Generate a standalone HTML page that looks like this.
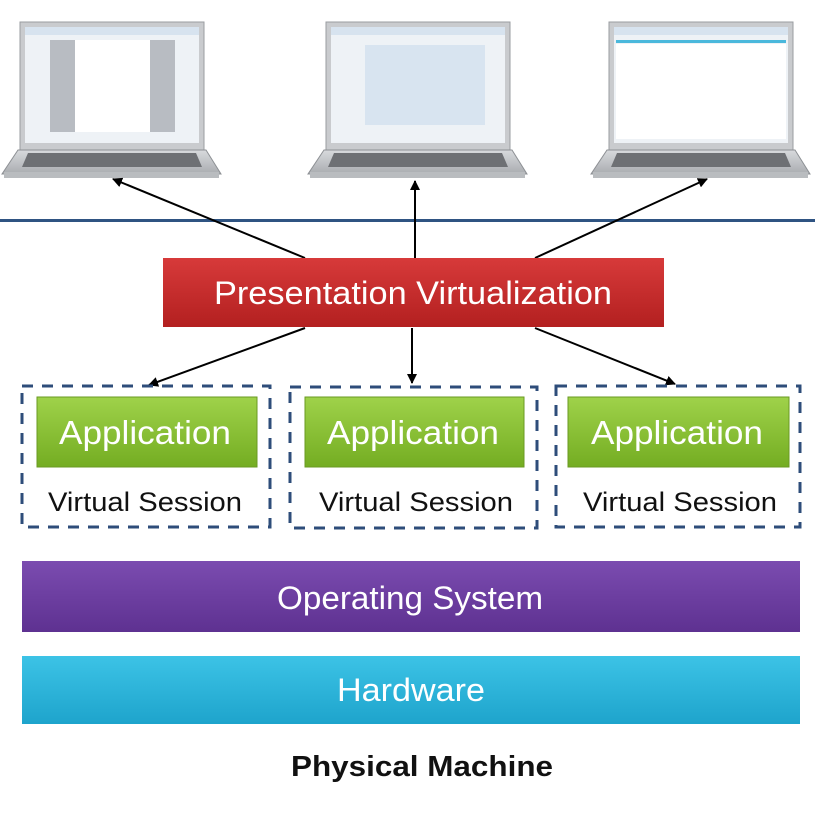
<!DOCTYPE html>
<html><head><meta charset="utf-8"><style>
html,body{margin:0;padding:0;background:#fff;}
svg{display:block;}
text{font-family:"Liberation Sans",sans-serif;}
</style></head><body>
<svg width="815" height="814" viewBox="0 0 815 814" xmlns="http://www.w3.org/2000/svg">
<defs>
<linearGradient id="red" x1="0" y1="0" x2="0" y2="1"><stop offset="0" stop-color="#d73a3a"/><stop offset="1" stop-color="#b32020"/></linearGradient>
<linearGradient id="grn" x1="0" y1="0" x2="0" y2="1"><stop offset="0" stop-color="#9fd24a"/><stop offset="1" stop-color="#74ad22"/></linearGradient>
<linearGradient id="pur" x1="0" y1="0" x2="0" y2="1"><stop offset="0" stop-color="#7b4cb0"/><stop offset="1" stop-color="#5e3191"/></linearGradient>
<linearGradient id="cyn" x1="0" y1="0" x2="0" y2="1"><stop offset="0" stop-color="#3cc3e6"/><stop offset="1" stop-color="#1ea4cc"/></linearGradient>
<linearGradient id="base" x1="0" y1="0" x2="0" y2="1"><stop offset="0" stop-color="#d8dadd"/><stop offset="1" stop-color="#a9acb0"/></linearGradient>
<marker id="ah" markerWidth="10" markerHeight="10" refX="9" refY="5" orient="auto" markerUnits="userSpaceOnUse"><path d="M0,0 L10,5 L0,10 z" fill="#000"/></marker>
<g id="lap">
<rect x="0" y="0" width="184" height="130" fill="#c9cbce" stroke="#9a9da0"/>
<rect x="5" y="5" width="174" height="116" fill="#eef2f6"/>
<rect x="5" y="5" width="174" height="8" fill="#d7e3ef"/>
<path d="M-2,128 L186,128 L201,152 L-18,152 Z" fill="url(#base)" stroke="#8d9094"/>
<path d="M8,131 L176,131 L182,145 L2,145 Z" fill="#6e7074"/>
<rect x="-16" y="150" width="215" height="6" fill="#b9bcbf"/>
</g>
</defs>
<use href="#lap" x="20" y="22"/>
<rect x="50" y="40" width="25" height="92" fill="#b8bcc2"/>
<rect x="150" y="40" width="25" height="92" fill="#b8bcc2"/>
<rect x="75" y="40" width="75" height="92" fill="#fff"/>
<use href="#lap" x="326" y="22"/>
<rect x="365" y="45" width="120" height="80" fill="#d8e4f0"/>
<use href="#lap" x="609" y="22"/>
<rect x="616" y="40" width="170" height="3" fill="#4ab8dc"/>
<rect x="616" y="44" width="170" height="95" fill="#fff"/>

<rect x="0" y="219" width="815" height="3" fill="#2f5482"/>

<g stroke="#000" stroke-width="2" fill="none" marker-end="url(#ah)">
<line x1="305" y1="258" x2="113" y2="179"/>
<line x1="415" y1="258" x2="415" y2="181"/>
<line x1="535" y1="258" x2="707" y2="179"/>
<line x1="305" y1="328" x2="149" y2="385"/>
<line x1="412" y1="328" x2="412" y2="383"/>
<line x1="535" y1="328" x2="675" y2="384"/>
</g>

<rect x="163" y="258" width="501" height="69" fill="url(#red)"/>
<text x="413" y="304" font-size="32" fill="#fff" text-anchor="middle" textLength="398" lengthAdjust="spacingAndGlyphs">Presentation Virtualization</text>

<g fill="none" stroke="#2e4d7a" stroke-width="3" stroke-dasharray="11,9">
<rect x="22" y="386" width="248" height="141"/>
<rect x="290" y="387" width="247" height="141"/>
<rect x="556" y="386" width="244" height="141"/>
</g>
<g fill="url(#grn)" stroke="#6a9a22">
<rect x="37" y="397" width="220" height="70"/>
<rect x="305" y="397" width="219" height="70"/>
<rect x="568" y="397" width="221" height="70"/>
</g>
<g font-size="33" fill="#fff" text-anchor="middle">
<text x="145" y="444" textLength="172" lengthAdjust="spacingAndGlyphs">Application</text>
<text x="413" y="444" textLength="172" lengthAdjust="spacingAndGlyphs">Application</text>
<text x="677" y="444" textLength="172" lengthAdjust="spacingAndGlyphs">Application</text>
</g>
<g font-size="27" fill="#111" text-anchor="middle">
<text x="145" y="511" textLength="194" lengthAdjust="spacingAndGlyphs">Virtual Session</text>
<text x="416" y="511" textLength="194" lengthAdjust="spacingAndGlyphs">Virtual Session</text>
<text x="680" y="511" textLength="194" lengthAdjust="spacingAndGlyphs">Virtual Session</text>
</g>

<rect x="22" y="561" width="778" height="71" fill="url(#pur)"/>
<text x="410" y="609" font-size="32" fill="#fff" text-anchor="middle" textLength="266" lengthAdjust="spacingAndGlyphs">Operating System</text>
<rect x="22" y="656" width="778" height="68" fill="url(#cyn)"/>
<text x="411" y="701" font-size="32" fill="#fff" text-anchor="middle" textLength="148" lengthAdjust="spacingAndGlyphs">Hardware</text>
<text x="422" y="776" font-size="29" font-weight="bold" fill="#111" text-anchor="middle" textLength="262" lengthAdjust="spacingAndGlyphs">Physical Machine</text>
</svg>
</body></html>
